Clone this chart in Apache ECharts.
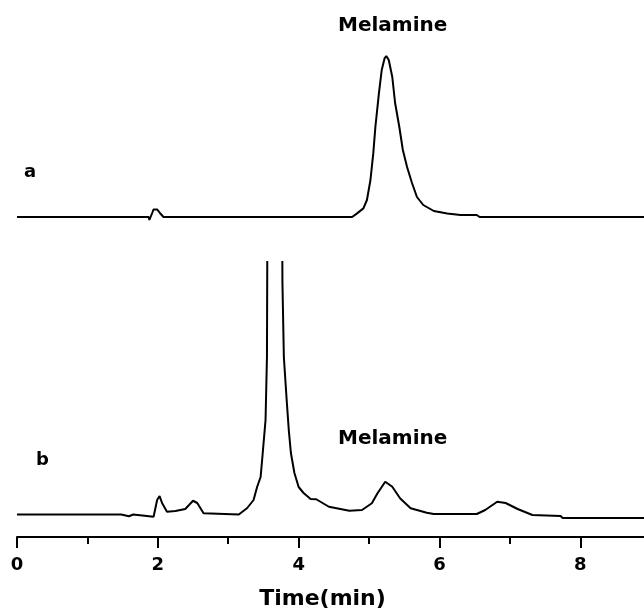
<!DOCTYPE html>
<html>
<head>
    <meta charset="UTF-8">
    <title>Melamine chromatograms</title>
    <script src="https://cdn.jsdelivr.net/npm/echarts@6.0.0/dist/echarts.min.js"></script>
    <style>
        html, body { margin: 0; padding: 0; background: #fff; }
        #chart { width: 644px; height: 611px; }
    </style>
</head>
<body>
    <div id="chart"></div>
    <script>
        // trace a: standard
        var timeA = [0, 1.87, 1.88, 1.92, 1.94, 1.99, 2.03, 2.08, 4.76, 4.83, 4.92, 4.97, 5.02, 5.06, 5.09, 5.14, 5.18, 5.22, 5.245, 5.28, 5.33, 5.37, 5.43, 5.48, 5.54, 5.61, 5.68, 5.77, 5.92, 6.11, 6.30, 6.53, 6.57, 10];
        var signalA = [0, 0, -1.5, 2, 3.8, 3.8, 2, 0, 0, 1.8, 4.3, 8.5, 18.5, 31.8, 45, 61.8, 73.5, 79.3, 80.5, 78.5, 70, 57, 45, 33.5, 25, 17, 10, 6, 3, 1.8, 1, 1, 0, 0];

        // trace b: sample
        var timeB = [0, 1.48, 1.50, 1.59, 1.61, 1.65, 1.67, 1.94, 1.99, 2.025, 2.06, 2.13, 2.25, 2.39, 2.50, 2.56, 2.65, 3.15, 3.17, 3.27, 3.36, 3.41, 3.46, 3.49, 3.53, 3.55, 3.56, 3.66, 3.76, 3.77, 3.79, 3.83, 3.86, 3.89, 3.94, 4.00, 4.07, 4.17, 4.25, 4.43, 4.72, 4.90, 5.04, 5.12, 5.23, 5.33, 5.44, 5.59, 5.82, 5.92, 6.53, 6.65, 6.82, 6.94, 7.11, 7.32, 7.72, 7.75, 10];
        var signalB = [0, 0, -0.7, -0.7, 0, 0, -0.7, -0.9, 5.8, 7.4, 4.6, 1.1, 1.4, 2.2, 5.5, 4.6, 0.5, 0, 0.6, 2.6, 5.8, 11, 15, 24.6, 37.8, 63, 150, 260, 150, 92.6, 63, 45.8, 33.8, 24.6, 16.6, 11, 8.6, 6.2, 6.1, 3.1, 1.5, 1.8, 4.5, 8.5, 13.1, 11.1, 6.5, 2.5, 0.7, 0.2, 0.2, 1.8, 5.1, 4.6, 2.2, -0.2, -0.6, -1.4, -1.4];

        var majorTicks = [0, 2, 4, 6, 8];
        var minorTicks = [0, 1, 2, 3, 4, 5, 6, 7, 8];
        var xMax = 8.905;

        function zip(t, v) {
            return t.map(function (x, i) { return [x, v[i]]; });
        }

        var font = 'DejaVu Sans';
        var black = '#000';
        var chart = echarts.init(document.getElementById('chart'), null, { renderer: 'canvas' });
        chart.setOption({
            animation: false,
            backgroundColor: '#fff',
            grid: [
                { left: 17, right: 0, top: 37, height: 203 },
                { left: 17, right: 0, top: 262, bottom: 74 }
            ],
            xAxis: [
                { gridIndex: 0, type: 'value', min: 0, max: xMax, show: false },
                {
                    gridIndex: 1, type: 'value', min: 0, max: xMax, position: 'bottom',
                    name: 'Time(min)', nameLocation: 'middle', nameGap: 51,
                    nameTextStyle: { color: black, fontFamily: font, fontWeight: 'bold', fontSize: 22, padding: [0, 16, 0, 0] },
                    axisLine: { onZero: false, lineStyle: { color: black, width: 2 } },
                    axisTick: { length: 11, customValues: majorTicks, lineStyle: { color: black, width: 2 } },
                    axisLabel: {
                        color: black, fontFamily: font, fontWeight: 'bold', fontSize: 18, margin: 19,
                        customValues: majorTicks
                    },
                    splitLine: { show: false }
                },
                {
                    gridIndex: 1, type: 'value', min: 0, max: xMax, position: 'bottom',
                    axisLine: { show: false, onZero: false },
                    axisTick: { length: 7, customValues: minorTicks, lineStyle: { color: black, width: 2 } },
                    axisLabel: { show: false },
                    splitLine: { show: false }
                }
            ],
            yAxis: [
                { gridIndex: 0, type: 'value', min: -11.5, max: 90, show: false },
                { gridIndex: 1, type: 'value', min: -9, max: 101, show: false }
            ],
            series: [
                {
                    type: 'line', xAxisIndex: 0, yAxisIndex: 0, data: zip(timeA, signalA),
                    showSymbol: false, clip: true,
                    lineStyle: { color: black, width: 2 }
                },
                {
                    type: 'line', xAxisIndex: 1, yAxisIndex: 1, data: zip(timeB, signalB),
                    showSymbol: false, clip: true,
                    lineStyle: { color: black, width: 2 }
                }
            ],
            graphic: [
                { type: 'text', left: 338, top: 16, style: { text: 'Melamine', fill: black, font: 'bold 20px "DejaVu Sans"' } },
                { type: 'text', left: 338, top: 429, style: { text: 'Melamine', fill: black, font: 'bold 20px "DejaVu Sans"' } },
                { type: 'text', left: 24, top: 163, style: { text: 'a', fill: black, font: 'bold 18px "DejaVu Sans"' } },
                { type: 'text', left: 36, top: 451, style: { text: 'b', fill: black, font: 'bold 18px "DejaVu Sans"' } }
            ]
        });
    </script>
</body>
</html>
